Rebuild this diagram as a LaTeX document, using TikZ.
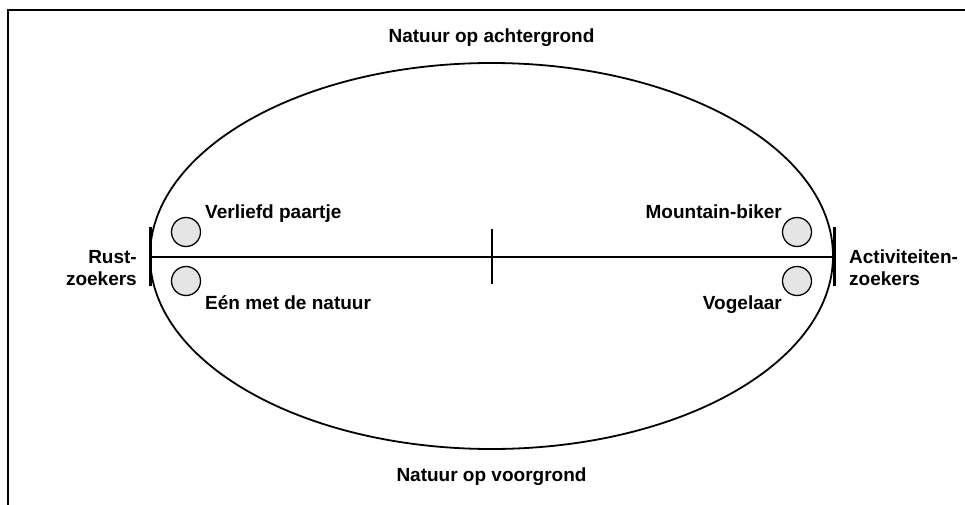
\documentclass[tikz,border=0pt]{standalone}
\usepackage{fontspec}
\setmainfont{Liberation Sans}
\usepackage{tikz}
\usetikzlibrary{shapes.geometric,positioning}

\begin{document}
\begin{tikzpicture}[x=1pt,y=-1pt,
        lbl/.style = {
            inner sep=0pt,
            font=\fontsize{19}{22}\selectfont\bfseries
        },
        persoon/.style = {
            draw, circle,
            line width=1.3pt,
            fill=black!10,
            minimum size=29pt,
            inner sep=0pt
        },
        lijn/.style = {line width=1.8pt}]

        \useasboundingbox (0,0) rectangle (965,505);
        \draw[line width=2.2pt] (8,505) -- (8,10) -- (965,10);

        \node[draw, ellipse, lijn, minimum width=683pt, minimum height=386pt] (veld) at (491.5,256) {};
        \coordinate (links) at (150,257);
        \coordinate (rechts) at (833,257);
        \coordinate (midden) at (492,257);

        \draw[lijn] (links) -- (rechts);
        \draw[lijn] ([yshift=-27pt]midden) -- ([yshift=28pt]midden);
        \draw[line width=3pt] ([yshift=-29pt]links) -- ([yshift=30pt]links);
        \draw[line width=3pt] ([xshift=1pt,yshift=-29pt]rechts) -- ([xshift=1pt,yshift=30pt]rechts);

        \node[persoon] (p1) at (186,232) {};
        \node[persoon] (p2) at (186,281) {};
        \node[persoon] (p3) at (797,232) {};
        \node[persoon] (p4) at (797,281) {};

        \node[lbl, anchor=base west] (l1) at (205,218) {Verliefd paartje};
        \node[lbl, anchor=base west] (l2) at (205,309) {Eén met de natuur};
        \node[lbl, anchor=base east] (l3) at (782,218) {Mountain-biker};
        \node[lbl, anchor=base east] (l4) at (782,309) {Vogelaar};

        \node[lbl, align=right, anchor=east] (rust) at (137,268) {Rust-\\zoekers};
        \node[lbl, align=left, anchor=west] (actief) at (849,267.5) {Activiteiten-\\zoekers};

        \node[lbl, anchor=base] (achter) at (491.5,43) {Natuur op achtergrond};
        \node[lbl, anchor=base] (voor) at (491.5,481) {Natuur op voorgrond};
    \end{tikzpicture}
\end{document}
